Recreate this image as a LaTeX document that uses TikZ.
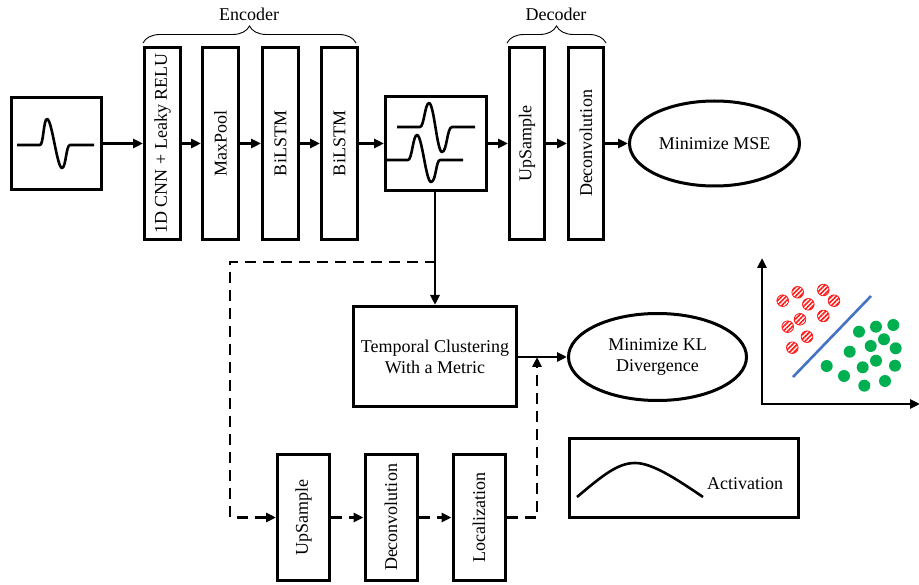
\documentclass[tikz,border=0pt]{standalone}
\usepackage{fontspec}
\setmainfont{Liberation Serif}
\usepackage{graphicx}
\usetikzlibrary{arrows.meta,decorations.pathreplacing,patterns.meta,shapes.geometric}
\definecolor{dotred}{HTML}{FF1A1A}
\definecolor{dotgreen}{HTML}{00B050}
\definecolor{sepblue}{HTML}{4472C4}
\tikzset{
  box/.style={draw, line width=3pt, fill=white, inner sep=0pt, align=center,
    font=\fontsize{18}{21}\selectfont},
  vbox/.style={box, minimum width=36pt, minimum height=192pt},
  lbox/.style={box, minimum width=52pt, minimum height=126pt},
  goal/.style={draw, ellipse, line width=3pt, inner sep=0pt, align=center,
    font=\fontsize{18}{21}\selectfont},
  arr/.style={line width=2.6pt, -{Triangle[length=10pt,width=9pt]}},
  darr/.style={line width=2.6pt, dash pattern=on 11pt off 7pt, -{Triangle[length=10pt,width=9pt]}},
  dline/.style={line width=2.6pt, dash pattern=on 11pt off 7pt},
  wave/.style={line width=2.6pt, line join=round},
  brc/.style={draw, line width=0.9pt, decorate, decoration={brace, amplitude=17pt}},
  lbl/.style={font=\fontsize{18}{21}\selectfont, inner sep=0pt},
  reddot/.style={draw=dotred, line width=0.8pt, pattern={Lines[angle=45,distance=3.2pt,line width=1.6pt]}, pattern color=dotred},
  greendot/.style={fill=dotgreen}
}
\begin{document}
\begin{tikzpicture}[x=1pt,y=-1pt]
\useasboundingbox (0,0) rectangle (919,585);

% top row
\node[box, minimum width=90pt, minimum height=92pt] (input) at (56.5,143.5) {};
\node[vbox] (cnn) at (162.5,143.5) {\rotatebox{90}{1D CNN + Leaky RELU}};
\node[vbox] (pool) at (220.5,143.5) {\rotatebox{90}{MaxPool}};
\node[vbox] (lstm1) at (280.5,143.5) {\rotatebox{90}{BiLSTM}};
\node[vbox] (lstm2) at (339.5,143.5) {\rotatebox{90}{BiLSTM}};
\node[box, minimum width=101pt, minimum height=94pt] (latent) at (436,143.5) {};
\node[vbox, minimum width=35pt] (up) at (527,143.5) {\rotatebox{90}{UpSample}};
\node[vbox, minimum width=35pt] (deconv) at (586,143.5) {\rotatebox{90}{Deconvolution}};
\node[goal, minimum width=170pt, minimum height=85pt] (mse) at (714.5,143.5) {Minimize MSE};

% braces
\draw[brc] (143,43) -- (356,43);
\node[lbl] (enc) at (249,14) {Encoder};
\draw[brc] (507,43) -- (606,43);
\node[lbl] (dec) at (556,14) {Decoder};

% waves
\draw[wave] (17,145) -- (40,145) .. controls (43.5,145) and (43.5,119) .. (47,119)
  .. controls (52,119) and (57,168) .. (62,168) .. controls (66,168) and (66,145) .. (70,145) -- (94,145);
\draw[wave] (397,127) -- (420,127) .. controls (424,127) and (425,103) .. (429,103)
  .. controls (434,103) and (437,152) .. (442,152) .. controls (447,152) and (447,127) .. (452,127) -- (475,127);
\draw[wave] (386,160) -- (408,160) .. controls (412,160) and (413,135) .. (417,135)
  .. controls (422,135) and (426,182) .. (431,182) .. controls (436,182) and (436,160) .. (440,160) -- (463,160);

% top arrows
\draw[arr] (input.east) -- (cnn.west);
\draw[arr] (cnn.east) -- (pool.west);
\draw[arr] (pool.east) -- (lstm1.west);
\draw[arr] (lstm1.east) -- (lstm2.west);
\draw[arr] (lstm2.east) -- (latent.west);
\draw[arr] (latent.east) -- (up.west);
\draw[arr] (up.east) -- (deconv.west);
\draw[arr] (deconv.east) -- (mse.west);

% clustering
\node[box, minimum width=163pt, minimum height=100pt] (clust) at (435,356.5) {Temporal Clustering\\With a Metric};
\node[goal, minimum width=178pt, minimum height=87pt] (kl) at (657.5,357) {Minimize KL\\Divergence};
\coordinate (branch) at (436,262);
\draw[arr] (latent.south -| clust.north) -- (clust.north);
\draw[arr] (clust.east |- kl.west) -- (kl.west);

% bottom row
\node[lbox] (bup) at (303.5,517.5) {\rotatebox{90}{UpSample}};
\node[lbox] (bdec) at (391,517.5) {\rotatebox{90}{Deconvolution}};
\node[lbox] (bloc) at (479,517.5) {\rotatebox{90}{Localization}};
\coordinate (c1) at (230,262);
\coordinate (c2) at (230,517.5);
\coordinate (c3) at (537,517.5);
\coordinate (c4) at (537,357);
\draw[darr] (branch) -- (c1) -- (c2) -- (bup.west);
\draw[darr] (bup.east) -- (bdec.west);
\draw[darr] (bdec.east) -- (bloc.west);
\draw[darr] (bloc.east) -- (c3) -- (c4);

% activation
\node[box, minimum width=229pt, minimum height=79pt] (act) at (684,478) {};
\node[lbl] (actlbl) at (745,484) {Activation};
\draw[wave] (577,497) .. controls (603,475) and (618,463) .. (635,463)
  .. controls (652,463) and (675,478) .. (703,497);

% scatter plot
\coordinate (orig) at (762,404);
\coordinate (ytop) at (762,258);
\coordinate (xend) at (920,404);
\draw[arr, line cap=rect] (orig) -- (ytop);
\draw[arr] (orig) -- (xend);
\draw[sepblue, line width=2.6pt] (793,377) -- (871,296);
\foreach \p in {(782.7,300.7),(797.7,292.3),(823.3,290),(834,300.7),(808.3,304.3),(800,319.3),(787.7,326.7),(823.3,316),(807,336.7),(792.3,347.7)}
  \draw[reddot] \p circle[radius=5.8pt];
\foreach \p in {(859,331.7),(876,326.7),(893.3,325),(884,339.3),(870.7,346),(895.7,348.3),(849.7,351.7),(876,360.7),(862.7,367.3),(895,365.7),(826.7,366),(844,376),(864.3,385.7),(885,381)}
  \fill[greendot] \p circle[radius=6pt];
\end{tikzpicture}
\end{document}
